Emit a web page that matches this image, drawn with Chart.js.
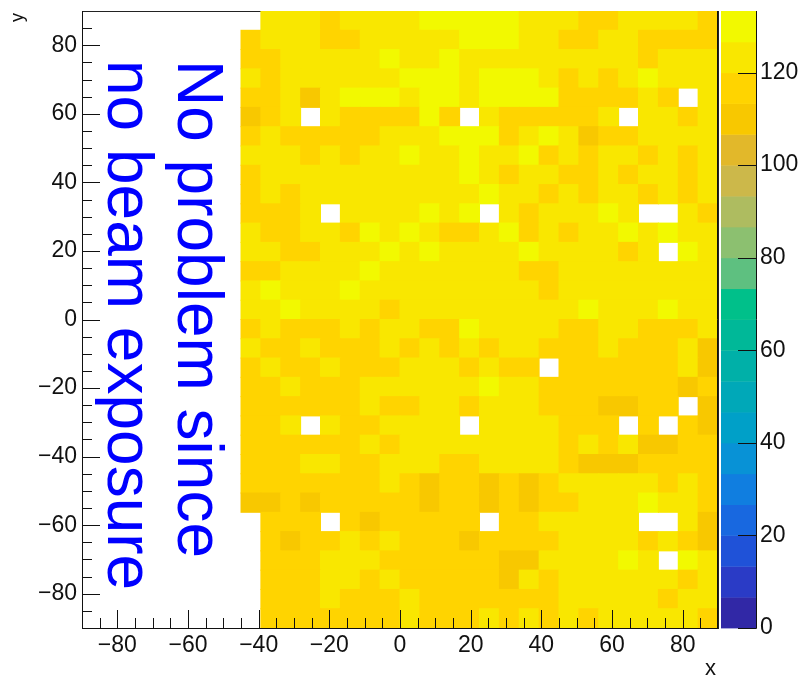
<!DOCTYPE html>
<html>
<head>
<meta charset="utf-8">
<script src="https://cdn.jsdelivr.net/npm/chart.js@4.4.1/dist/chart.umd.min.js"></script>
<style>
  html, body { margin: 0; padding: 0; background: #fff; }
  #wrap { position: relative; width: 798px; height: 681px; overflow: hidden; }
  #note {
    position: absolute; left: 235px; top: 60px;
    transform-origin: 0 0; transform: rotate(90deg);
    font-family: 'Liberation Sans', Arial, Helvetica, sans-serif;
    font-size: 64px; line-height: 70px; color: #0000ff; white-space: nowrap;
  }
</style>
</head>
<body>
<div id="wrap">
  <canvas id="c" width="798" height="681"></canvas>
  <div id="note">No problem since<br>no beam exposure</div>
</div>
<script>
// bin centres along x (only the filled columns) and bin edges along y (top to bottom)
const xCenters = [-42.1875, -36.5625, -30.9375, -25.3125, -19.6875, -14.0625, -8.4375, -2.8125,
  2.8125, 8.4375, 14.0625, 19.6875, 25.3125, 30.9375, 36.5625, 42.1875,
  47.8125, 53.4375, 59.0625, 64.6875, 70.3125, 75.9375, 81.5625, 87.1875];
const yEdges = [90, 84.375, 78.75, 73.125, 67.5, 61.875, 56.25, 50.625, 45, 39.375, 33.75,
  28.125, 22.5, 16.875, 11.25, 5.625, 0, -5.625, -11.25, -16.875, -22.5, -28.125, -33.75,
  -39.375, -45, -50.625, -56.25, -61.875, -67.5, -73.125, -78.75, -84.375, -90];

// bin contents, one row per y bin from the top; null = no bin, 0 = empty bin
const counts = [
  [null,123,123,123,117,123,123,123,123,130,130,130,130,130,123,123,123,117,117,123,123,123,123,117],
  [117,123,123,123,117,117,123,123,123,123,123,130,130,130,123,123,117,117,123,123,117,117,117,117],
  [117,117,123,123,123,123,123,130,123,123,130,123,123,123,123,123,123,123,123,123,117,123,123,123],
  [123,117,123,123,123,123,123,123,130,130,130,123,130,130,130,123,117,123,117,123,130,123,123,123],
  [117,117,123,111,123,130,130,130,123,130,130,123,130,130,130,130,117,117,117,117,123,117,0,123],
  [111,117,123,0,123,117,117,117,117,130,117,0,123,117,117,117,117,117,123,0,123,123,117,123],
  [117,123,117,117,117,117,117,123,123,123,130,130,130,117,123,130,123,111,117,117,123,123,123,123],
  [123,123,123,117,123,117,123,123,130,123,123,130,123,123,130,117,123,117,123,123,117,123,117,123],
  [117,123,123,123,123,123,123,123,123,123,123,130,123,117,123,123,117,117,123,117,123,123,117,123],
  [117,123,117,123,123,123,123,123,123,123,123,123,130,123,123,117,123,117,123,123,117,123,117,123],
  [117,117,117,123,0,123,123,123,123,130,123,130,0,123,117,123,123,123,130,123,0,0,123,117],
  [123,117,117,123,123,117,130,123,130,123,117,117,123,130,117,123,117,123,123,130,123,130,123,123],
  [123,123,117,117,123,123,123,130,123,130,123,123,123,123,130,123,123,123,123,117,123,0,130,123],
  [117,117,123,123,123,123,130,123,123,123,123,123,123,123,117,117,123,123,123,123,123,123,123,123],
  [123,130,123,123,123,130,123,123,123,123,123,123,123,123,123,117,123,123,123,123,123,123,123,123],
  [123,123,130,123,123,123,123,117,123,123,123,123,123,123,123,123,123,130,123,123,123,130,123,123],
  [117,123,117,117,117,123,117,123,123,117,117,130,123,123,123,123,117,117,123,123,117,117,117,123],
  [123,117,117,123,117,117,117,123,117,123,117,123,117,123,123,117,117,117,123,117,117,117,123,111],
  [117,123,117,117,123,117,117,117,123,123,123,117,123,117,117,0,117,117,117,117,117,117,123,111],
  [117,117,123,117,117,117,123,123,123,123,123,123,130,123,123,117,117,117,117,117,117,117,111,117],
  [117,117,117,117,117,117,123,117,117,123,123,117,123,123,123,117,117,117,111,111,117,117,0,111],
  [117,117,123,0,123,117,117,123,123,123,123,0,123,123,123,123,117,117,117,0,117,0,117,111],
  [117,117,117,117,117,117,123,117,123,123,123,123,123,123,123,123,117,123,117,123,111,111,117,117],
  [117,117,117,123,123,117,117,123,123,123,117,117,123,123,123,123,117,111,111,111,117,117,117,117],
  [117,117,117,117,117,117,117,123,117,111,117,117,111,117,111,117,123,123,123,123,123,117,123,117],
  [111,111,117,111,117,117,117,117,117,111,117,117,111,117,111,117,117,123,123,123,130,123,123,117],
  [null,117,117,117,0,117,111,117,117,117,117,117,0,117,117,123,123,123,123,123,0,0,123,111],
  [null,117,111,117,117,123,117,123,117,117,117,111,117,117,117,117,123,123,123,123,117,123,117,111],
  [null,117,117,117,123,123,123,117,117,117,117,117,117,111,111,123,123,123,123,130,123,0,130,123],
  [null,117,117,117,123,123,117,123,117,117,117,117,117,111,123,117,123,123,123,123,123,123,117,123],
  [null,117,117,117,123,117,117,117,123,117,117,117,117,117,117,117,123,123,123,123,123,117,123,123],
  [null,117,117,117,117,117,117,117,123,117,117,117,123,117,123,117,123,117,123,123,123,123,123,117]
];

const xTicks = [-80, -60, -40, -20, 0, 20, 40, 60, 80];
const yTicks = [-80, -60, -40, -20, 0, 20, 40, 60, 80];
const zTicks = [0, 20, 40, 60, 80, 100, 120];
const zMax = 133.3;

// 20 colour levels, bottom to top
const palette = ['#3128a6', '#2a3bc6', '#1f52d8', '#1868e0', '#107ee0', '#0892d6', '#00a0c8',
  '#00a8b8', '#00b0a8', '#00b898', '#00c08a', '#5ec080', '#8cc070', '#aebc60', '#ccb84a',
  '#e2b82a', '#f8c800', '#ffd400', '#f9e700', '#f2f900'];

function levelColor(v) {
  const k = Math.min(palette.length - 1, Math.floor(v / (zMax / palette.length)));
  return palette[k];
}

const cells = [];
counts.forEach((row, t) => {
  row.forEach((v, c) => {
    if (v === null || v === 0) return;
    cells.push({ x: xCenters[c], y: [yEdges[t + 1], yEdges[t]], v: v });
  });
});

const FONT = "'Liberation Sans', Arial, Helvetica, sans-serif";
Chart.defaults.font.family = FONT;
Chart.defaults.color = '#111';

const minus = v => v < 0 ? '\u2212' + Math.abs(v) : String(v);

// fixed axis boxes so the plot frame lands where the original one is
function fixBox(size) {
  return s => {
    if (s.isHorizontal()) s.height = size; else s.width = size;
    s.paddingTop = s.paddingBottom = s.paddingLeft = s.paddingRight = 0;
  };
}

const framePlugin = {
  id: 'frame',
  beforeDatasetsDraw(chart) {
    const { ctx, chartArea: a } = chart;
    ctx.save();
    ctx.strokeStyle = '#222';
    ctx.lineWidth = 1;
    ctx.strokeRect(a.left + 0.5, a.top + 0.5, a.right - a.left, a.bottom - a.top);
    ctx.restore();
  },
  afterDatasetsDraw(chart) {
    const { ctx, chartArea: a, scales } = chart;
    ctx.save();
    ctx.strokeStyle = '#111';
    ctx.lineWidth = 1;
    ctx.beginPath();
    ctx.moveTo(a.left + 0.5, a.top);
    ctx.lineTo(a.left + 0.5, a.bottom + 0.5);
    ctx.lineTo(a.right - 0.5, a.bottom + 0.5);
    ctx.lineTo(a.right - 0.5, a.top);
    // ticks every 5, long ones on the labelled values
    for (let v = -85; v <= 85; v += 5) {
      const len = v % 20 === 0 ? 18 : 10;
      const px = Math.round(scales.x.getPixelForValue(v)) + 0.5;
      ctx.moveTo(px, a.bottom);
      ctx.lineTo(px, a.bottom - len);
      const py = Math.round(scales.y.getPixelForValue(v)) + 0.5;
      ctx.moveTo(a.left, py);
      ctx.lineTo(a.left + len, py);
    }
    ctx.stroke();

    // axis titles
    ctx.fillStyle = '#111';
    ctx.font = '22px ' + FONT;
    ctx.textAlign = 'right';
    ctx.textBaseline = 'alphabetic';
    ctx.fillText('x', a.right - 2, 675);
    ctx.translate(23, 13);
    ctx.rotate(-Math.PI / 2);
    ctx.font = '18px ' + FONT;
    ctx.fillText('y', 0, 0);
    ctx.restore();
  }
};

const colorbarPlugin = {
  id: 'colorbar',
  afterDraw(chart) {
    const { ctx, chartArea: a, scales } = chart;
    const z = scales.z;
    const left = a.right + 3, right = a.right + 38;
    const step = zMax / palette.length;
    ctx.save();
    palette.forEach((col, k) => {
      const top = z.getPixelForValue((k + 1) * step);
      const bot = z.getPixelForValue(k * step);
      ctx.fillStyle = col;
      ctx.fillRect(left, top, right - left, bot - top + 0.4);
    });
    ctx.strokeStyle = '#111';
    ctx.lineWidth = 1;
    ctx.beginPath();
    ctx.moveTo(right + 0.5, a.top);
    ctx.lineTo(right + 0.5, a.bottom + 0.5);
    zTicks.forEach(v => {
      const py = Math.round(z.getPixelForValue(v)) + 0.5;
      ctx.moveTo(right + 0.5, py);
      ctx.lineTo(right - 18, py);
    });
    ctx.stroke();
    ctx.restore();
  }
};

new Chart(document.getElementById('c'), {
  type: 'bar',
  data: {
    datasets: [{
      data: cells,
      backgroundColor: ctx => ctx.raw ? levelColor(ctx.raw.v) : 'transparent',
      borderWidth: 0,
      borderSkipped: false,
      inflateAmount: 0.5,
      barPercentage: 1,
      categoryPercentage: 1
    }]
  },
  options: {
    responsive: false,
    animation: false,
    layout: { padding: { top: 11, left: 0, right: 0, bottom: 0 } },
    plugins: { legend: { display: false }, tooltip: { enabled: false } },
    scales: {
      x: {
        type: 'linear', min: -90, max: 90, offset: false,
        grid: { display: false, drawTicks: false }, border: { display: false },
        afterBuildTicks: s => { s.ticks = xTicks.map(v => ({ value: v })); },
        afterFit: fixBox(53),
        ticks: { font: { size: 23 }, padding: 4, maxRotation: 0, autoSkip: false, callback: minus }
      },
      y: {
        type: 'linear', min: -90, max: 90, position: 'left',
        grid: { display: false, drawTicks: false }, border: { display: false },
        afterBuildTicks: s => { s.ticks = yTicks.map(v => ({ value: v })); },
        afterFit: fixBox(82),
        ticks: { font: { size: 23 }, padding: 5, autoSkip: false, callback: minus }
      },
      z: {
        type: 'linear', min: 0, max: zMax, position: 'right',
        grid: { display: false, drawTicks: false }, border: { display: false },
        afterBuildTicks: s => { s.ticks = zTicks.map(v => ({ value: v })); },
        afterFit: fixBox(80),
        ticks: { font: { size: 23 }, padding: 42, autoSkip: false }
      }
    }
  },
  plugins: [framePlugin, colorbarPlugin]
});
</script>
</body>
</html>
